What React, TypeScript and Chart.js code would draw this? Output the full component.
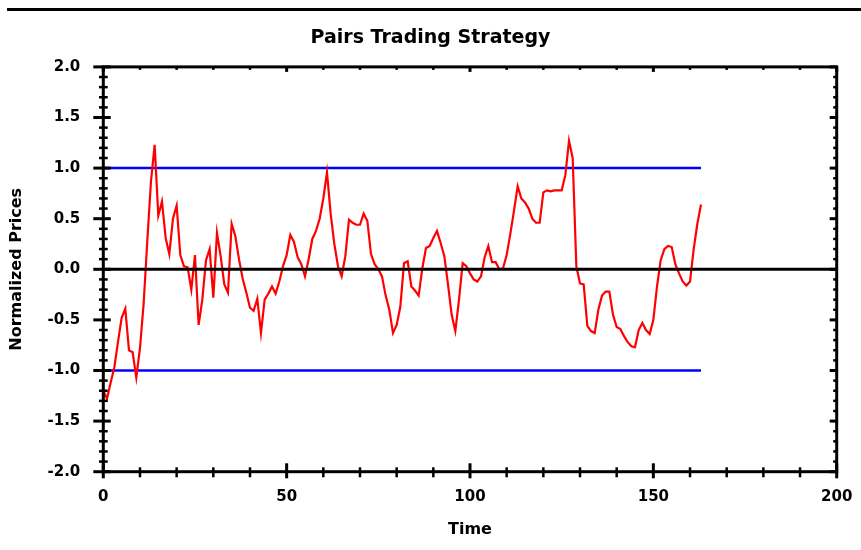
import React, { useEffect, useRef } from "react";
import { Chart, registerables } from "chart.js";

Chart.register(...registerables);

const chartTitle = "Pairs Trading Strategy";
const xTitle = "Time";
const yTitle = "Normalized Prices";

// normalized spread, one value per time step (t = 0 .. 163)
const spread = [
  -1.20, -1.28, -1.12, -0.97, -0.72, -0.48, -0.39, -0.80, -0.82, -1.07,
  -0.78, -0.34, 0.28, 0.87, 1.23, 0.53, 0.67, 0.31, 0.15, 0.50,
  0.63, 0.14, 0.03, 0.02, -0.20, 0.14, -0.55, -0.30, 0.09, 0.20,
  -0.28, 0.36, 0.13, -0.15, -0.23, 0.45, 0.33, 0.10, -0.09, -0.23,
  -0.38, -0.41, -0.29, -0.63, -0.30, -0.24, -0.17, -0.24, -0.12, 0.03,
  0.14, 0.34, 0.27, 0.12, 0.05, -0.07, 0.10, 0.30, 0.38, 0.50,
  0.70, 0.96, 0.55, 0.25, 0.03, -0.07, 0.13, 0.49, 0.46, 0.44,
  0.44, 0.55, 0.48, 0.15, 0.05, 0.00, -0.07, -0.26, -0.40, -0.63,
  -0.55, -0.37, 0.06, 0.08, -0.17, -0.21, -0.26, 0.01, 0.21, 0.23,
  0.31, 0.38, 0.26, 0.13, -0.15, -0.45, -0.61, -0.30, 0.06, 0.03,
  -0.04, -0.10, -0.12, -0.07, 0.12, 0.23, 0.07, 0.07, 0.00, 0.01,
  0.14, 0.35, 0.58, 0.82, 0.70, 0.66, 0.60, 0.50, 0.46, 0.46,
  0.76, 0.78, 0.77, 0.78, 0.78, 0.78, 0.93, 1.27, 1.10, 0.03,
  -0.14, -0.15, -0.56, -0.61, -0.63, -0.40, -0.26, -0.22, -0.22, -0.45,
  -0.57, -0.59, -0.66, -0.72, -0.76, -0.77, -0.60, -0.53, -0.60, -0.64,
  -0.50, -0.17, 0.09, 0.20, 0.23, 0.22, 0.05, -0.04, -0.12, -0.16,
  -0.12, 0.20, 0.45, 0.64,
];

const upperBand = 1.0;
const lowerBand = -1.0;
const meanLevel = 0.0;

const xMin = 0;
const xMax = 200;
const xStep = 50;
const yMin = -2;
const yMax = 2;
const yStep = 0.5;

const FONT = "'DejaVu Sans', Verdana, sans-serif";

const framePlugin = {
  id: "frame",
  afterDraw(chart: any) {
    const { ctx, chartArea, scales } = chart;
    const { left, right, top, bottom } = chartArea;
    const x = scales.x;
    const y = scales.y;
    ctx.save();
    ctx.fillStyle = "#000";
    ctx.fillRect(7, 8, 854, 3);
    ctx.strokeStyle = "#000";
    ctx.lineWidth = 3;
    ctx.strokeRect(left, top, right - left, bottom - top);
    const seg = (x1: number, y1: number, x2: number, y2: number) => {
      ctx.beginPath();
      ctx.moveTo(x1, y1);
      ctx.lineTo(x2, y2);
      ctx.stroke();
    };
    for (let k = Math.round(yMin * 10); k <= Math.round(yMax * 10); k++) {
      const py = y.getPixelForValue(k / 10);
      const major = k % 5 === 0;
      ctx.lineWidth = major ? 3 : 2.5;
      seg(left - (major ? 10 : 4.3), py, left + (major ? 7.4 : 4.4), py);
      seg(right - (major ? 7 : 3.5), py, right, py);
    }
    for (let t = xMin; t <= xMax; t += 10) {
      const px = x.getPixelForValue(t);
      const major = t % xStep === 0;
      ctx.lineWidth = major ? 3 : 2.5;
      seg(px, bottom - (major ? 8.4 : 4.4), px, bottom + (major ? 6.6 : 5.6));
      seg(px, top, px, top + (major ? 5 : 3));
    }
    ctx.restore();
  },
};

export default function App() {
  const ref = useRef<HTMLCanvasElement | null>(null);

  useEffect(() => {
    document.body.style.margin = "0";
    document.body.style.overflow = "hidden";
    const canvas = ref.current;
    if (!canvas) return;

    const spreadPoints = spread.map((v, i) => ({ x: i, y: v }));
    const lastT = spread.length - 1;

    const chart = new Chart(canvas, {
      type: "line",
      data: {
        datasets: [
          {
            label: "mean",
            data: [
              { x: xMin, y: meanLevel },
              { x: xMax, y: meanLevel },
            ],
            borderColor: "#000000",
            borderWidth: 3,
            pointRadius: 0,
            order: 0,
          },
          {
            label: "spread",
            data: spreadPoints,
            borderColor: "#ff0000",
            borderWidth: 2.2,
            pointRadius: 0,
            tension: 0,
            order: 1,
          },
          {
            label: "upper",
            data: [
              { x: 0, y: upperBand },
              { x: lastT, y: upperBand },
            ],
            borderColor: "#0000ff",
            borderWidth: 2.5,
            pointRadius: 0,
            order: 2,
          },
          {
            label: "lower",
            data: [
              { x: 0, y: lowerBand },
              { x: lastT, y: lowerBand },
            ],
            borderColor: "#0000ff",
            borderWidth: 2.5,
            pointRadius: 0,
            order: 2,
          },
        ],
      },
      options: {
        animation: false,
        responsive: false,
        devicePixelRatio: 1,
        layout: { padding: { left: 0, right: 0, top: 0, bottom: 0 } },
        plugins: {
          legend: { display: false },
          tooltip: { enabled: false },
          title: {
            display: true,
            text: chartTitle,
            color: "#000",
            font: { family: FONT, size: 19, weight: "bold" },
            padding: { top: 26.4, bottom: 17.7 },
          },
        },
        scales: {
          x: {
            type: "linear",
            min: xMin,
            max: xMax,
            grid: { display: false, drawTicks: false },
            border: { display: false },
            ticks: {
              stepSize: xStep,
              color: "#000",
              padding: 16,
              maxRotation: 0,
              font: { family: FONT, size: 15, weight: "bold" },
            },
            title: {
              display: true,
              text: xTitle,
              color: "#000",
              font: { family: FONT, size: 16, weight: "bold" },
              padding: { top: 0, bottom: 10.4 },
            },
            afterFit: (s: any) => {
              s.height = 78.3;
              s.paddingLeft = 0;
              s.paddingRight = 0;
            },
          },
          y: {
            type: "linear",
            min: yMin,
            max: yMax,
            grid: { display: false, drawTicks: false },
            border: { display: false },
            ticks: {
              stepSize: yStep,
              color: "#000",
              padding: 23,
              font: { family: FONT, size: 15, weight: "bold" },
              callback: (v: any) => Number(v).toFixed(1),
            },
            title: {
              display: true,
              text: yTitle,
              color: "#000",
              font: { family: FONT, size: 16, weight: "bold" },
              padding: { top: 7.4, bottom: 0 },
            },
            afterFit: (s: any) => {
              s.width = 103.3;
              s.paddingTop = 0;
              s.paddingBottom = 0;
            },
          },
          yRight: {
            type: "linear",
            position: "right",
            min: yMin,
            max: yMax,
            grid: { display: false, drawTicks: false },
            border: { display: false },
            ticks: { display: false },
            afterFit: (s: any) => {
              s.width = 24.3;
              s.paddingTop = 0;
              s.paddingBottom = 0;
            },
          },
        },
      },
      plugins: [framePlugin],
    });

    return () => chart.destroy();
  }, []);

  return <canvas ref={ref} width={861} height={550} style={{ display: "block" }} />;
}
